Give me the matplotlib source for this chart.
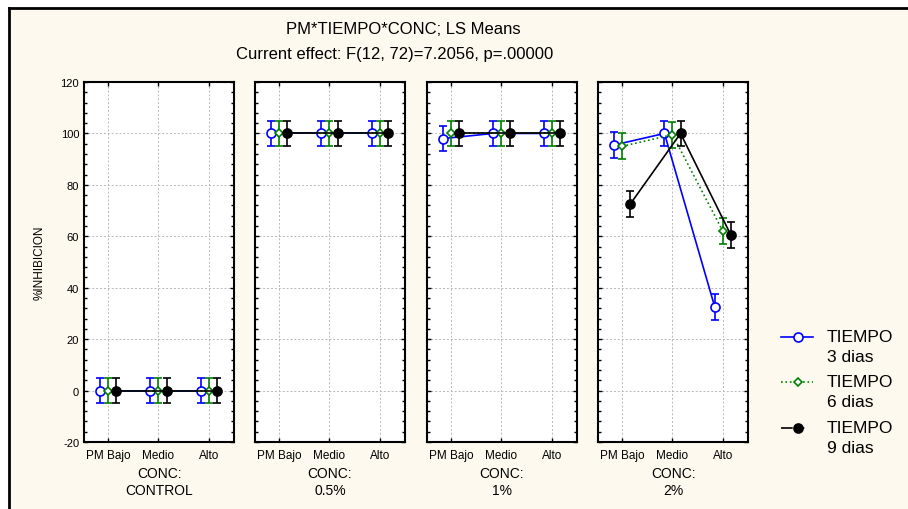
import matplotlib
matplotlib.use('Agg')
import matplotlib.pyplot as plt
from matplotlib.lines import Line2D
import numpy as np

plt.rcParams['font.family'] = ['Liberation Sans', 'DejaVu Sans']
plt.rcParams['axes.unicode_minus'] = False

# categories and groups
pm_levels = ["PM Bajo", "Medio", "Alto"]
conc_levels = ["CONTROL", "0.5%", "1%", "2%"]
tiempo_names = ["TIEMPO", "TIEMPO", "TIEMPO"]
tiempo_days = ["3 dias", "6 dias", "9 dias"]

# LS means, one list per CONC panel (PM Bajo, Medio, Alto)
dias3 = [[0, 0, 0], [100, 100, 100], [98, 100, 100], [95.5, 100, 32.5]]
dias6 = [[0, 0, 0], [100, 100, 100], [100, 100, 100], [95, 99.5, 62]]
dias9 = [[0, 0, 0], [100, 100, 100], [100, 100, 100], [72.5, 100, 60.5]]
err = 5.0

W, H = 908, 510
bg = '#fdf9ee'
fig = plt.figure(figsize=(W / 100, H / 100), dpi=100)
fig.patch.set_facecolor('white')

# cream frame with black left/top border
fig.patches.append(plt.Rectangle((9 / W, 0), 1, 1 - 9 / H, transform=fig.transFigure,
                                 facecolor=bg, edgecolor='none', zorder=-10))
fig.add_artist(Line2D([9 / W, 9 / W], [0, 1 - 9 / H], color='black', lw=2, transform=fig.transFigure))
fig.add_artist(Line2D([9 / W, 1], [1 - 9 / H, 1 - 9 / H], color='black', lw=2, transform=fig.transFigure))

blue, green = '#0000ff', '#008000'
series = [
    (dias3, -0.16, dict(color=blue, ls='-', marker='o', mfc='white', ms=6.5)),
    (dias6, 0.0, dict(color=green, ls=':', marker='D', mfc='white', ms=4.5)),
    (dias9, 0.16, dict(color='black', ls='-', marker='o', mfc='black', ms=6.5)),
]

lefts = [84, 255, 427, 598]
x = np.arange(len(pm_levels))
for i, conc in enumerate(conc_levels):
    ax = fig.add_axes([lefts[i] / W, 1 - 443 / H, 150 / W, 360 / H])
    ax.set_facecolor('white')
    for k, (vals, off, st) in enumerate(series):
        ax.errorbar(x + off, vals[i], yerr=err, color=st['color'], ls=st['ls'], lw=1.2,
                    marker=st['marker'], mfc=st['mfc'], mec=st['color'], ms=st['ms'],
                    mew=1.2, capsize=3, elinewidth=1.2, capthick=1.2, zorder=3 + k)
    ax.set_xlim(-0.48, 2.5)
    ax.set_ylim(-20, 120)
    ax.set_yticks(np.arange(-20, 121, 20))
    ax.set_yticks(np.arange(-20, 121, 4), minor=True)
    ax.set_xticks(x)
    ax.set_xticklabels(pm_levels, fontsize=8.5)
    ax.grid(True, which='major', color='#b8b8b8', ls=(0, (2, 2)), lw=0.7)
    ax.tick_params(axis='both', which='both', direction='in', left=True, right=True,
                   top=True, bottom=True, length=3, width=1)
    ax.tick_params(axis='x', pad=5)
    ax.tick_params(axis='y', which='minor', length=2)
    ax.tick_params(axis='y', labelsize=8)
    if i > 0:
        ax.set_yticklabels([])
    else:
        ax.set_ylabel('%INHIBICION', fontsize=8.5, labelpad=11)
    for s in ax.spines.values():
        s.set_linewidth(1.5)
    ax.set_xlabel('CONC:\n' + conc, fontsize=10, labelpad=4, linespacing=1.25)

fig.text(403 / W, 1 - 29 / H, 'PM*TIEMPO*CONC; LS Means', ha='center', va='center', fontsize=12)
fig.text(395 / W, 1 - 55 / H, 'Current effect: F(12, 72)=7.2056, p=.00000',
         ha='center', va='center', fontsize=12)

# legend, drawn by hand so the handle sits on the first text line
leg_y = [338, 383, 429]
leg_styles = [
    dict(color=blue, ls='-', marker='o', mfc='white', mec=blue, ms=6.5),
    dict(color=green, ls=':', marker='D', mfc='white', mec=green, ms=4.5),
    dict(color='black', ls=(0, (7, 4, 3, 40)), marker='o', mfc='black', mec='black', ms=6.5),
]
for yy, st, name, day in zip(leg_y, leg_styles, tiempo_names, tiempo_days):
    yf = 1 - yy / H
    fig.add_artist(Line2D([781 / W, 813 / W], [yf, yf], color=st['color'], ls=st['ls'], lw=1.2,
                          transform=fig.transFigure))
    fig.add_artist(Line2D([798 / W], [yf], marker=st['marker'], mfc=st['mfc'], mec=st['mec'],
                          ms=st['ms'], mew=1.2, ls='none', transform=fig.transFigure))
    fig.text(827 / W, yf, name, ha='left', va='center', fontsize=12.5)
    fig.text(827 / W, yf - 20 / H, day, ha='left', va='center', fontsize=12.5)

fig.savefig('out.png', dpi=100, facecolor=fig.get_facecolor())
